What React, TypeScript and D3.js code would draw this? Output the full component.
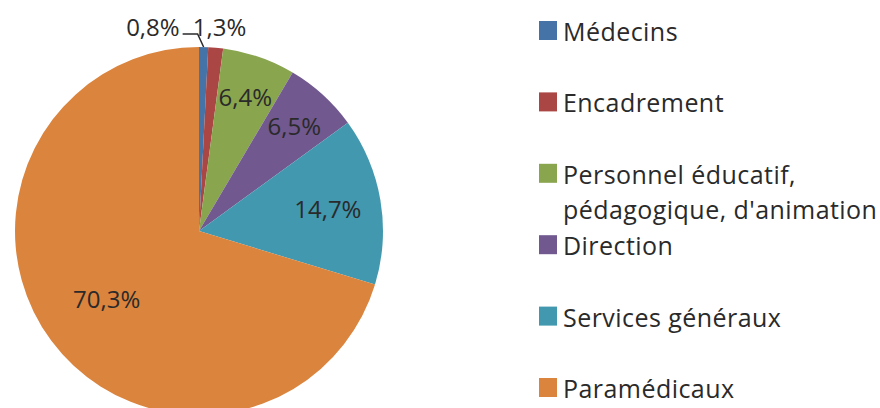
import React, { useEffect, useRef } from 'react';
import * as d3 from 'd3';

const categories = [
  "Médecins",
  "Encadrement",
  "Personnel éducatif, pédagogique, d'animation",
  "Direction",
  "Services généraux",
  "Paramédicaux",
];
const legendLines = [
  ["Médecins"],
  ["Encadrement"],
  ["Personnel éducatif,", "pédagogique, d'animation"],
  ["Direction"],
  ["Services généraux"],
  ["Paramédicaux"],
];
const shares = [0.8, 1.3, 6.4, 6.5, 14.7, 70.3];
const colors = ["#4572A7", "#AA4643", "#89A54E", "#71588F", "#4198AF", "#DB843D"];

// fraction of the radius where the inside labels sit (null = label outside)
const labelRadius = [null, null, 0.77, 0.77, 0.71, 0.625];

const frFormat = d3.formatLocale({ decimal: ",", thousands: " ", grouping: [3], currency: ["", "€"] }).format(".1f");

const App: React.FC = () => {
  const ref = useRef<SVGSVGElement | null>(null);

  useEffect(() => {
    if (!ref.current) return;
    const width = 880;
    const height = 408;
    const cx = 199;
    const cy = 231;
    const r = 184;
    const font = "'Open Sans', sans-serif";
    const ink = "#2a2a2a";

    const svg = d3.select(ref.current);
    svg.selectAll("*").remove();
    svg.attr("width", width).attr("height", height);

    const data = categories.map((c, i) => ({ name: c, value: shares[i], i }));
    const pie = d3.pie<any>().value(d => d.value).sort(null);
    const arcs = pie(data);
    const arc = d3.arc<any>().innerRadius(0).outerRadius(r);

    const g = svg.append("g").attr("transform", `translate(${cx},${cy})`);

    g.selectAll("path")
      .data(arcs)
      .join("path")
      .attr("d", arc)
      .attr("fill", d => colors[d.data.i]);

    const mid = (d: any) => (d.startAngle + d.endAngle) / 2;

    // inside labels
    g.selectAll("text.in")
      .data(arcs.filter(d => labelRadius[d.data.i] != null))
      .join("text")
      .attr("class", "in")
      .attr("x", d => Math.sin(mid(d)) * r * (labelRadius[d.data.i] as number))
      .attr("y", d => -Math.cos(mid(d)) * r * (labelRadius[d.data.i] as number))
      .attr("dy", "0.36em")
      .attr("text-anchor", "middle")
      .attr("font-family", font)
      .attr("font-size", 24)
      .attr("fill", ink)
      .text(d => frFormat(d.data.value) + "%");

    // outside labels for the two thin slices
    const outY = -r - 13;
    const a0 = arcs[0];
    const p0 = [Math.sin(mid(a0)) * r, -Math.cos(mid(a0)) * r];
    g.append("path")
      .attr("d", `M${p0[0]},${p0[1]}L${p0[0] - 6},${outY}L${p0[0] - 21},${outY}`)
      .attr("fill", "none")
      .attr("stroke", ink)
      .attr("stroke-width", 1.5);
    g.append("text")
      .attr("x", p0[0] - 24)
      .attr("y", outY + 2)
      .attr("text-anchor", "end")
      .attr("font-family", font)
      .attr("font-size", 24)
      .attr("fill", ink)
      .text(frFormat(a0.data.value) + "%");

    const a1 = arcs[1];
    const p1 = [Math.sin(mid(a1)) * r, -Math.cos(mid(a1)) * r];
    g.append("text")
      .attr("x", p1[0] - 23)
      .attr("y", outY + 2)
      .attr("text-anchor", "start")
      .attr("font-family", font)
      .attr("font-size", 24)
      .attr("fill", ink)
      .text(frFormat(a1.data.value) + "%");

    // legend
    const rowY = d3.scalePoint<number>().domain(d3.range(categories.length)).range([41, 398]);
    const legend = svg.append("g")
      .selectAll("g")
      .data(categories.map((c, i) => i))
      .join("g")
      .attr("transform", i => `translate(539,${rowY(i)})`);

    legend.append("rect")
      .attr("x", 0)
      .attr("y", -20)
      .attr("width", 18)
      .attr("height", 19)
      .attr("fill", i => colors[i]);

    legend.each(function (i) {
      const t = d3.select(this).append("text")
        .attr("font-family", font)
        .attr("font-size", 25)
        .attr("letter-spacing", 0.45)
        .attr("fill", ink);
      legendLines[i].forEach((line, j) => {
        t.append("tspan").attr("x", 24).attr("y", j * 35.7).text(line);
      });
    });
  }, []);

  return (
    <svg ref={ref} style={{ position: "absolute", left: 0, top: 0, background: "#fff" }}></svg>
  );
};

export default App;
